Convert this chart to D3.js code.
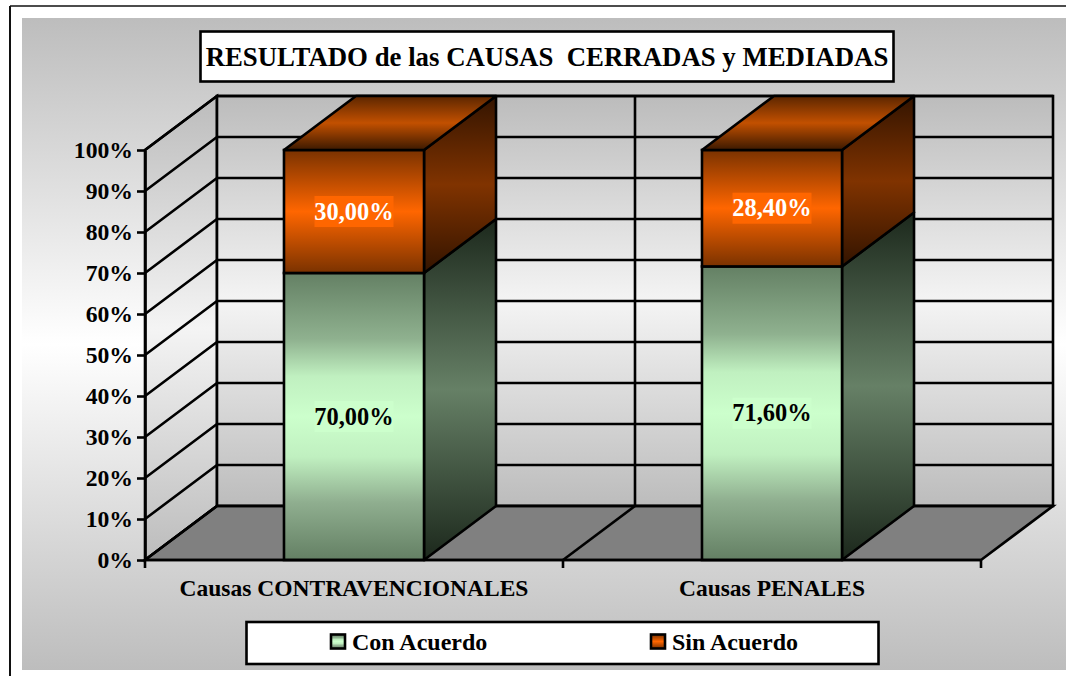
<!DOCTYPE html>
<html>
<head>
<meta charset="utf-8">
<script src="https://cdn.jsdelivr.net/npm/d3@7"></script>
<style>
  html, body { margin: 0; padding: 0; background: #fff; overflow: hidden; }
  text { font-family: "Liberation Serif", serif; font-weight: bold; fill: #000; }
</style>
</head>
<body>
<svg id="canvas" width="1066" height="676"></svg>
<script>
const categories = ["Causas CONTRAVENCIONALES", "Causas PENALES"];
const conAcuerdo = [70, 71.6];
const sinAcuerdo = [30, 28.4];
const seriesNames = ["Con Acuerdo", "Sin Acuerdo"];
const yTicks = [0, 10, 20, 30, 40, 50, 60, 70, 80, 90, 100];
const titleText = "RESULTADO de las CAUSAS\u00a0\u00a0CERRADAS y MEDIADAS";

const settings = {
  left: 145, right: 981, bottom: 560, top: 150,
  depthX: 72, depthY: -54, barPadding: 0.665,
  stroke: 2.6,
};
const sw = settings.stroke;

const svg = d3.select("#canvas");
const defs = svg.append("defs");

// vertical gradient, stops are [offset, colour]
function gradient(id, stops) {
  const g = defs.append("linearGradient")
    .attr("id", id).attr("x1", 0).attr("y1", 0).attr("x2", 0).attr("y2", 1);
  stops.forEach(s => g.append("stop").attr("offset", s[0]).attr("stop-color", s[1]));
}
const threeStop = (a, b, c) => [[0, a], [0.5, b], [1, c]];
gradient("bg", threeStop("#bdbdbd", "#ffffff", "#bdbdbd"));
gradient("wall", threeStop("#bcbcbc", "#f4f4f4", "#bcbcbc"));
gradient("greenFront", [[0, "#648064"], [0.23, "#8fb18f"], [0.36, "#c0f0c0"], [0.5, "#ccffcc"],
  [0.64, "#c0f0c0"], [0.8, "#8fae8f"], [1, "#648064"]]);
gradient("greenSide", threeStop("#1c281c", "#668066", "#1c281c"));
gradient("orangeFront", threeStop("#7a3200", "#ff6600", "#7a3200"));
gradient("orangeSide", threeStop("#331400", "#803300", "#331400"));
gradient("orangeTop", threeStop("#5c2600", "#c25000", "#3c1900"));

// page frame and chart area
svg.append("rect").attr("x", 22).attr("y", 18).attr("width", 1044).attr("height", 652).attr("fill", "url(#bg)");
svg.append("line").attr("x1", 10).attr("x2", 1066).attr("y1", 6).attr("y2", 6).attr("stroke", "#111").attr("stroke-width", 1.5);
svg.append("line").attr("x1", 10).attr("x2", 10).attr("y1", 6).attr("y2", 676).attr("stroke", "#111").attr("stroke-width", 2);

const y = d3.scaleLinear().domain([0, 100]).range([settings.bottom, settings.top]);
const x = d3.scaleBand().domain(categories).range([settings.left, settings.right])
  .paddingInner(settings.barPadding).paddingOuter(settings.barPadding / 2);

const dx = settings.depthX, dy = settings.depthY;
const pts = (arr) => arr.map(p => p.join(",")).join(" ");
const L = settings.left, R = settings.right;

// left wall, back wall, floor
svg.append("polygon")
  .attr("points", pts([[L, y(100)], [L + dx, y(100) + dy], [L + dx, y(0) + dy], [L, y(0)]]))
  .attr("fill", "url(#wall)").attr("stroke", "#000").attr("stroke-width", sw);
svg.append("rect")
  .attr("x", L + dx).attr("y", y(100) + dy).attr("width", R - L).attr("height", y(0) - y(100))
  .attr("fill", "url(#wall)").attr("stroke", "#000").attr("stroke-width", sw);
svg.append("polygon")
  .attr("points", pts([[L, y(0)], [L + dx, y(0) + dy], [R + dx, y(0) + dy], [R, y(0)]]))
  .attr("fill", "#808080").attr("stroke", "#000").attr("stroke-width", sw);

// grid on the walls
svg.append("g").selectAll("polyline").data(yTicks).join("polyline")
  .attr("points", d => pts([[L, y(d)], [L + dx, y(d) + dy], [R + dx, y(d) + dy]]))
  .attr("fill", "none").attr("stroke", "#000").attr("stroke-width", sw);

// middle vertical of the back wall
svg.append("line")
  .attr("x1", (L + R) / 2 + dx).attr("x2", (L + R) / 2 + dx)
  .attr("y1", y(100) + dy).attr("y2", y(0) + dy)
  .attr("stroke", "#000").attr("stroke-width", sw);
svg.append("line")
  .attr("x1", (L + R) / 2).attr("x2", (L + R) / 2 + dx)
  .attr("y1", y(0)).attr("y2", y(0) + dy)
  .attr("stroke", "#000").attr("stroke-width", sw);

// bars
const stacks = categories.map((c, i) => ({
  cat: c,
  parts: [
    { from: 0, to: conAcuerdo[i], front: "url(#greenFront)", side: "url(#greenSide)", label: conAcuerdo[i], labelFill: "#000", labelBg: "#ccffcc" },
    { from: conAcuerdo[i], to: conAcuerdo[i] + sinAcuerdo[i], front: "url(#orangeFront)", side: "url(#orangeSide)", label: sinAcuerdo[i], labelFill: "#fff", labelBg: "#ff6600" },
  ],
}));
const fmtPct = (v) => v.toFixed(2).replace(".", ",") + "%";

stacks.forEach(s => {
  const x0 = x(s.cat), x1 = x0 + x.bandwidth();
  const g = svg.append("g");
  s.parts.forEach(p => {
    g.append("polygon")
      .attr("points", pts([[x1, y(p.to)], [x1 + dx, y(p.to) + dy], [x1 + dx, y(p.from) + dy], [x1, y(p.from)]]))
      .attr("fill", p.side).attr("stroke", "#000").attr("stroke-width", sw).attr("stroke-linejoin", "round");
    g.append("rect")
      .attr("x", x0).attr("y", y(p.to)).attr("width", x.bandwidth()).attr("height", y(p.from) - y(p.to))
      .attr("fill", p.front).attr("stroke", "#000").attr("stroke-width", sw);
  });
  const topV = s.parts[1].to;
  g.append("polygon")
    .attr("points", pts([[x0, y(topV)], [x0 + dx, y(topV) + dy], [x1 + dx, y(topV) + dy], [x1, y(topV)]]))
    .attr("fill", "url(#orangeTop)").attr("stroke", "#000").attr("stroke-width", sw).attr("stroke-linejoin", "round");
  s.parts.forEach(p => {
    const cy = (y(p.from) + y(p.to)) / 2, cx = (x0 + x1) / 2;
    g.append("rect").attr("x", cx - 39.5).attr("y", cy - 15.5).attr("width", 79).attr("height", 31).attr("fill", p.labelBg);
    g.append("text").attr("x", cx).attr("y", cy + 8).attr("text-anchor", "middle")
      .attr("font-size", 24.4).style("fill", p.labelFill).text(fmtPct(p.label));
  });
});

// y axis
const yAxis = svg.append("g").attr("transform", `translate(${L},0)`)
  .call(d3.axisLeft(y).tickValues(yTicks).tickFormat(d => d + "%").tickSize(8).tickPadding(4).tickSizeOuter(0));
yAxis.selectAll("line").attr("stroke", "#000").attr("stroke-width", sw);
yAxis.select(".domain").attr("stroke", "#000").attr("stroke-width", sw);
yAxis.selectAll("text").attr("font-size", 23.7).attr("font-family", null);

// x axis, ticks sit between the categories
const xTickVals = [L, (L + R) / 2, R];
svg.append("line").attr("x1", L).attr("x2", R).attr("y1", y(0)).attr("y2", y(0)).attr("stroke", "#000").attr("stroke-width", sw);
svg.append("g").selectAll("line").data(xTickVals).join("line")
  .attr("x1", d => d).attr("x2", d => d).attr("y1", y(0)).attr("y2", y(0) + 8)
  .attr("stroke", "#000").attr("stroke-width", sw);
svg.append("g").selectAll("text").data(categories).join("text")
  .attr("x", d => x(d) + x.bandwidth() / 2).attr("y", 596)
  .attr("text-anchor", "middle").attr("font-size", 23.5).text(d => d);

// title
svg.append("rect").attr("x", 200.5).attr("y", 31.5).attr("width", 693).attr("height", 50)
  .attr("fill", "#fff").attr("stroke", "#000").attr("stroke-width", sw);
svg.append("text").attr("x", 547).attr("y", 66).attr("text-anchor", "middle")
  .attr("font-size", 26.8).text(titleText);

// legend
svg.append("rect").attr("x", 246.5).attr("y", 622).attr("width", 632).attr("height", 42)
  .attr("fill", "#fff").attr("stroke", "#000").attr("stroke-width", sw);
const legendFills = ["url(#greenFront)", "url(#orangeFront)"];
const legendX = [331, 651];
seriesNames.forEach((name, i) => {
  svg.append("rect").attr("x", legendX[i]).attr("y", 634.5).attr("width", 14).attr("height", 14)
    .attr("fill", legendFills[i]).attr("stroke", "#000").attr("stroke-width", sw);
  svg.append("text").attr("x", legendX[i] + 21).attr("y", 650).attr("font-size", 24).text(name);
});
</script>
</body>
</html>
